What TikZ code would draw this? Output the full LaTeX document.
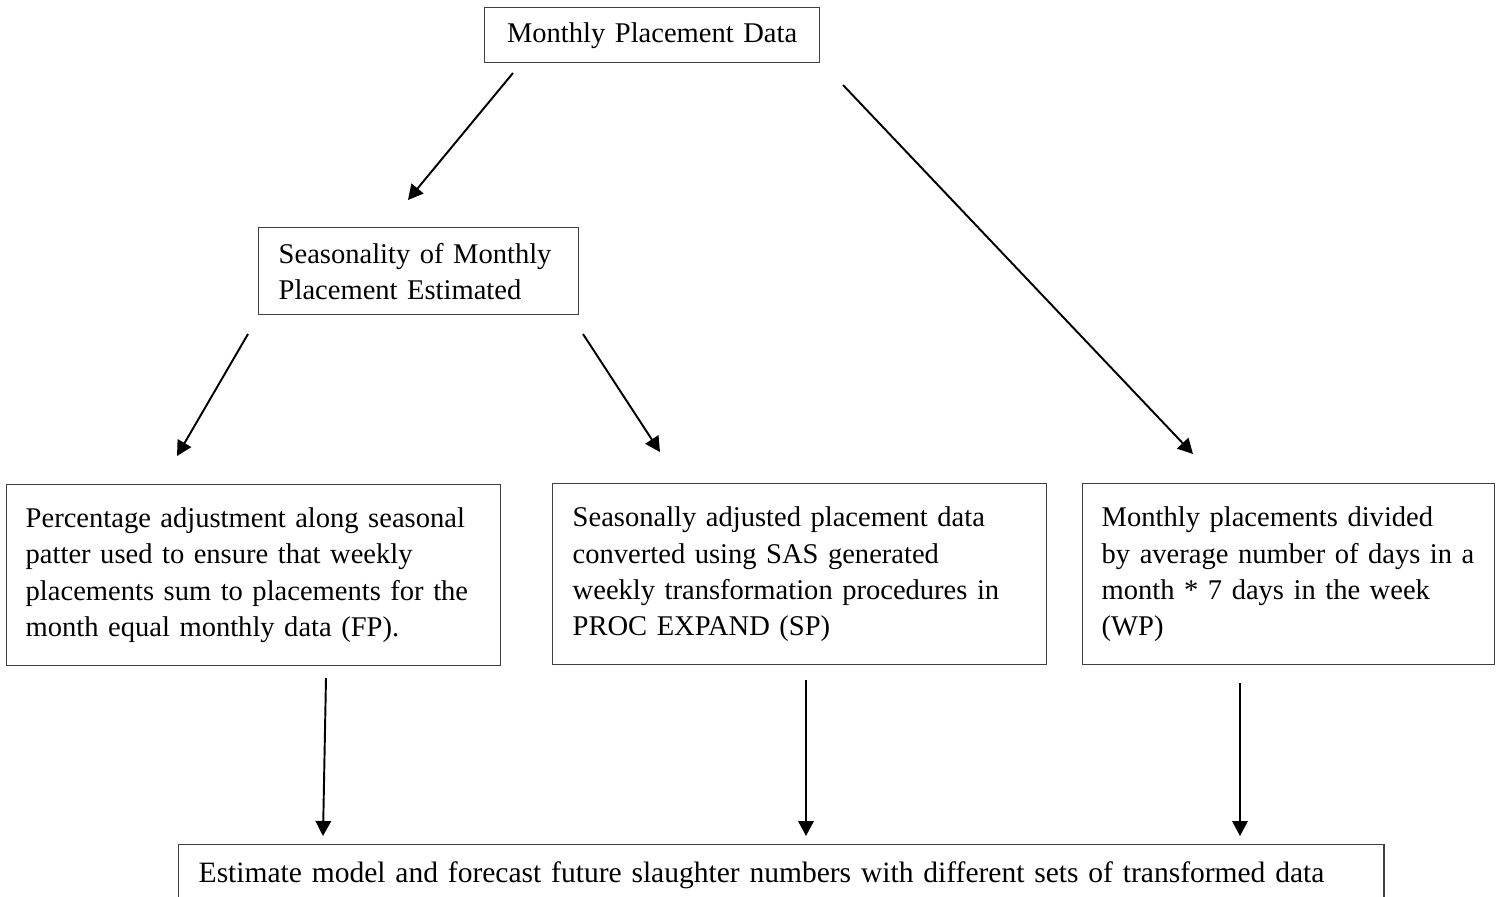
\documentclass[tikz,border=0pt]{standalone}
\usepackage{fontspec}
\setmainfont{Liberation Serif}
\usepackage{tikz}
\usetikzlibrary{arrows.meta,positioning}
\definecolor{boxline}{rgb}{0.25,0.25,0.25}
\newdimen\pxu \pxu=0.4131pt

\begin{document}
\begin{tikzpicture}[
  x=0.01452cm, y=-0.01452cm,
  >={Triangle[length=6.2pt,width=6.4pt]},
  every node/.style={font=\fontsize{11.8}{14.9}\selectfont},
  stagebox/.style n args={3}{
    rectangle, draw=boxline, line width=0.6pt,
    anchor=north west, inner sep=0pt, align=left,
    minimum width=#1*\pxu, minimum height=#2*\pxu,
    text width=#3*\pxu
  },
  flowarrow/.style={->, draw=black, line width=0.8pt}
]
\useasboundingbox (0,0) rectangle (1500,896);

% Top - source data
\node[stagebox={335}{55}{325}, align=center] (monthly) at (484,7) {Monthly Placement Data};

% Second level - seasonality
\node[stagebox={320}{87}{280}] (season) at (258,227) {Seasonality of Monthly\\Placement Estimated};

% Third row - three transformations
\node[stagebox={494}{181}{456}] (fp) at (6,484) {Percentage adjustment along seasonal\\patter used to ensure that weekly\\placements sum to placements for the\\month equal monthly data (FP).};
\node[stagebox={494}{181}{454}] (sp) at (552,483) {Seasonally adjusted placement data\\converted using SAS generated\\weekly transformation procedures in\\PROC EXPAND (SP)};
\node[stagebox={412}{181}{374}] (wp) at (1082,483) {Monthly placements divided\\by average number of days in a\\month * 7 days in the week\\(WP)};

% Bottom - estimation
\node[stagebox={1206}{62}{1166}, font=\fontsize{12.2}{14.9}\selectfont] (estimate) at (178,844) {Estimate model and forecast future slaughter numbers with different sets of transformed data};

% Arrow end points (arrows float between the boxes)
\coordinate (monthlyL) at (513,73);
\coordinate (seasonT) at (408,200);
\coordinate (monthlyR) at (843,85);
\coordinate (wpT) at (1193,454);
\coordinate (seasonL) at (248,334);
\coordinate (fpT) at (177,456);
\coordinate (seasonR) at (583,334);
\coordinate (spT) at (660,452);
\coordinate (fpB) at (326,678);
\coordinate (spB) at (806,680);
\coordinate (wpB) at (1240,683);
\coordinate (estimateL) at (323,836);
\coordinate (estimateM) at (806,836);
\coordinate (estimateR) at (1240,836);

% Monthly data arrows
\draw[flowarrow] (monthlyL) -- (seasonT);
\draw[flowarrow] (monthlyR) -- (wpT);

% Seasonality arrows
\draw[flowarrow] (seasonL) -- (fpT);
\draw[flowarrow] (seasonR) -- (spT);

% Transformed data into estimation
\draw[flowarrow] (fpB) -- (estimateL);
\draw[flowarrow] (spB) -- (estimateM);
\draw[flowarrow] (wpB) -- (estimateR);

\end{tikzpicture}
\end{document}
